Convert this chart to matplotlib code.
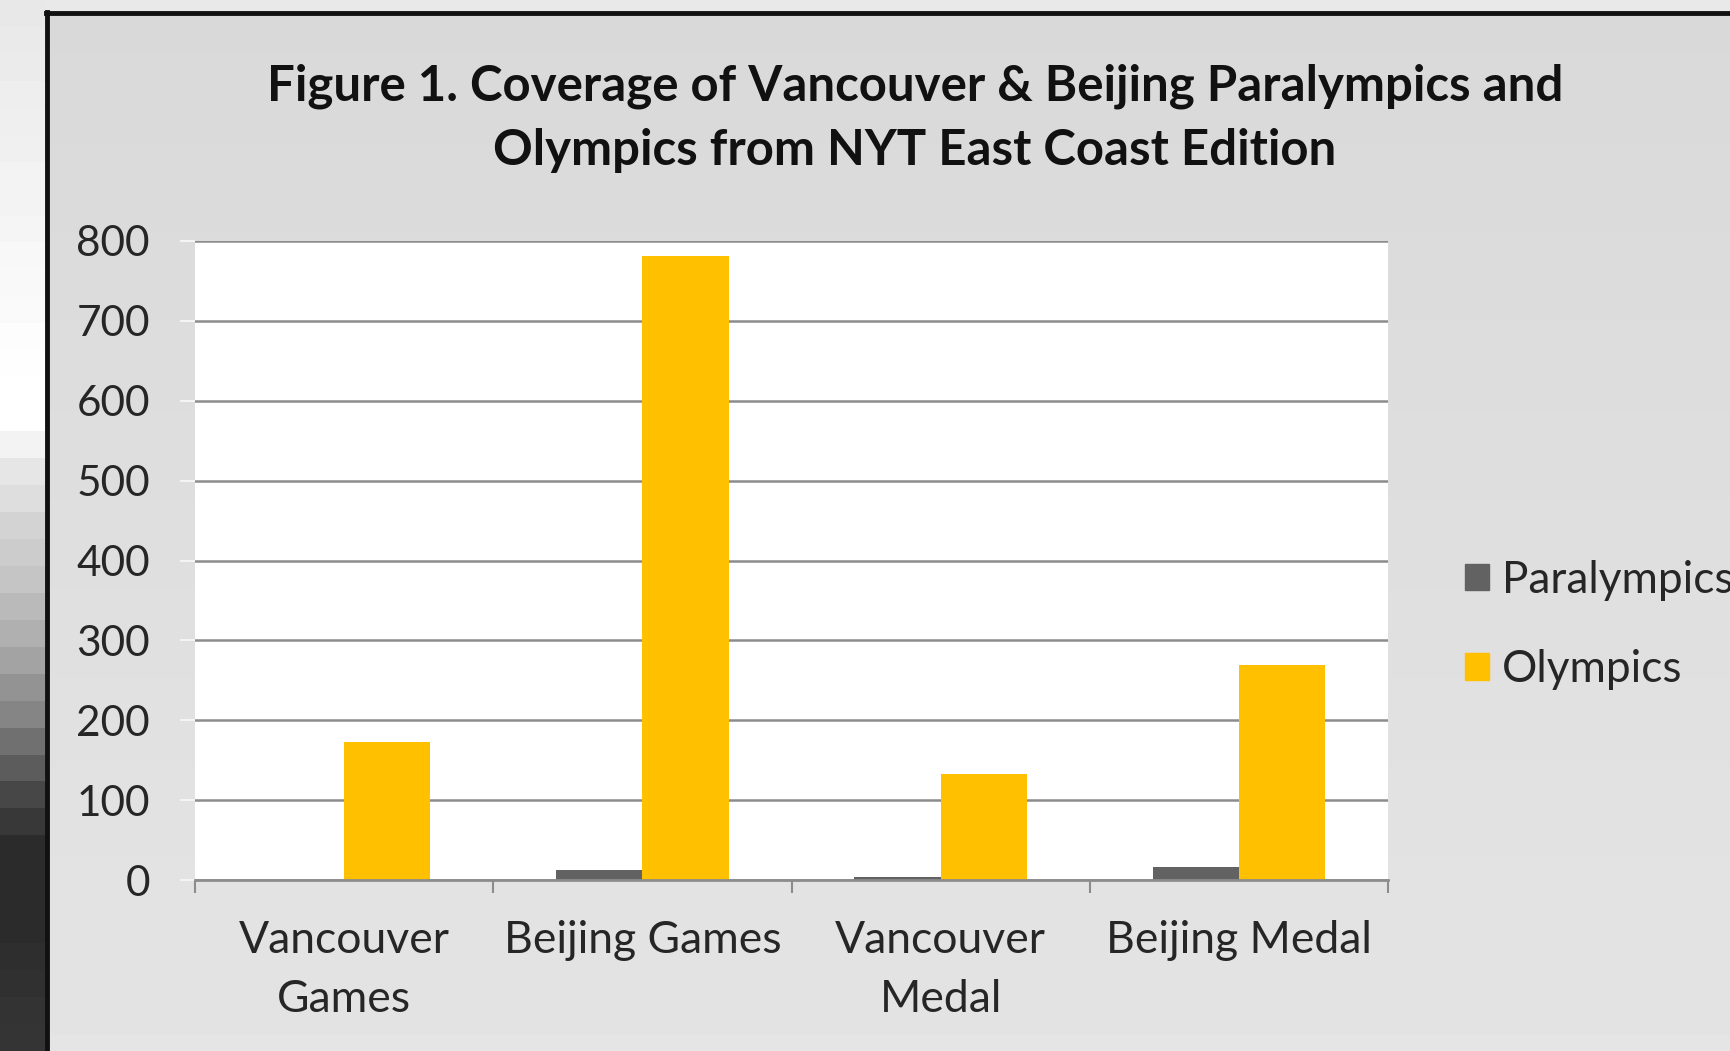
import numpy as np
import matplotlib
matplotlib.use("Agg")
import matplotlib.pyplot as plt
from matplotlib.patches import Patch

# ---- data ----
categories = ["Vancouver\nGames", "Beijing Games", "Vancouver\nMedal", "Beijing Medal"]
paralympics = [0, 13, 4, 16]
olympics = [173, 781, 133, 269]
series_names = ["Paralympics", "Olympics"]
y_ticks = [0, 100, 200, 300, 400, 500, 600, 700, 800]
title = "Figure 1. Coverage of Vancouver & Beijing Paralympics and\nOlympics from NYT East Coast Edition"

# decorative screenshot strip at the left (gray levels of bands, top -> bottom)
strip_grays = [0.91, 0.915, 0.92, 0.93, 0.935, 0.94, 0.95, 0.955, 0.96, 0.97, 0.975, 0.98, 0.99, 0.995,
               1.0, 1.0, 0.95, 0.9, 0.87, 0.83, 0.8, 0.77, 0.73, 0.69, 0.64, 0.58, 0.52, 0.44, 0.36,
               0.28, 0.22, 0.17, 0.17, 0.17, 0.17, 0.18, 0.19, 0.2, 0.21]

W, H = 1731, 1051
fig = plt.figure(figsize=(W / 100, H / 100), dpi=100)
fig.patch.set_facecolor("#e9e9e9")

def fx(px):
    return px / W

def fy(py):
    return 1 - py / H

font = ["Lato", "DejaVu Sans"]

# left strip
ax_s = fig.add_axes([0, 0, fx(46), 1])
ax_s.imshow(np.array(strip_grays)[:, None], cmap="gray", vmin=0, vmax=1,
            aspect="auto", interpolation="nearest")
ax_s.axis("off")

# chart area with gentle gradient
ax_c = fig.add_axes([fx(46), 0, 1 - fx(46), fy(13)])
grad = np.linspace(0.85, 0.895, 100)[:, None]
ax_c.imshow(grad, cmap="gray", vmin=0, vmax=1, aspect="auto", interpolation="bilinear")
ax_c.axis("off")
# black frame (left & top)
fig.add_artist(plt.Line2D([fx(47), fx(47)], [0, fy(12)], color="#111111", lw=3.5))
fig.add_artist(plt.Line2D([fx(46), 1], [fy(13), fy(13)], color="#111111", lw=3.5))

# plot area
ax = fig.add_axes([fx(195), fy(880), fx(1388) - fx(195), fy(241) - fy(880)])
ax.set_facecolor("white")
x = np.arange(len(categories))
w = 0.289
ax.bar(x - w / 2, paralympics, width=w, color="#626262", label=series_names[0], zorder=3)
ax.bar(x + w / 2, olympics, width=w, color="#ffc000", label=series_names[1], zorder=3)

ax.set_xlim(-0.5, len(categories) - 0.5)
ax.set_ylim(0, 800)
ax.set_yticks(y_ticks)
ax.set_yticklabels([str(v) for v in y_ticks], fontfamily=font, fontsize=30.5, color="#262626")
ax.yaxis.grid(True, color="#8c8c8c", lw=1.8, zorder=1)
ax.set_axisbelow(True)
for s in ["top", "right", "left"]:
    ax.spines[s].set_visible(False)
ax.spines["bottom"].set_color("#8c8c8c")
ax.spines["bottom"].set_linewidth(2)
ax.spines["bottom"].set_zorder(4)
ax.tick_params(axis="y", length=10.5, width=1.5, color="#f4f4f4", pad=22)

ax.set_xticks(x)
ax.set_xticklabels(categories, fontfamily=font, fontsize=32, color="#262626", linespacing=1.54)
ax.set_xticks(np.arange(-0.5, len(categories), 1.0), minor=True)
ax.tick_params(axis="x", which="major", length=0, pad=29)
ax.tick_params(axis="x", which="minor", length=9.5, width=1.5, color="#8c8c8c")

fig.text(fx(915), fy(118), title, ha="center", va="center", fontfamily=font,
         fontweight="bold", fontsize=35.4, color="#111111", linespacing=1.52)

handles = [Patch(color="#626262"), Patch(color="#ffc000")]
fig.legend(handles, series_names, loc="center left", bbox_to_anchor=(fx(1465), fy(625)),
           frameon=False, borderpad=0, borderaxespad=0, handlelength=0.54, handleheight=0.54,
           handletextpad=0.3, labelspacing=1.09,
           prop={"family": font, "size": 31.8}, labelcolor="#262626")

fig.savefig("out.png", dpi=100, facecolor=fig.get_facecolor())
